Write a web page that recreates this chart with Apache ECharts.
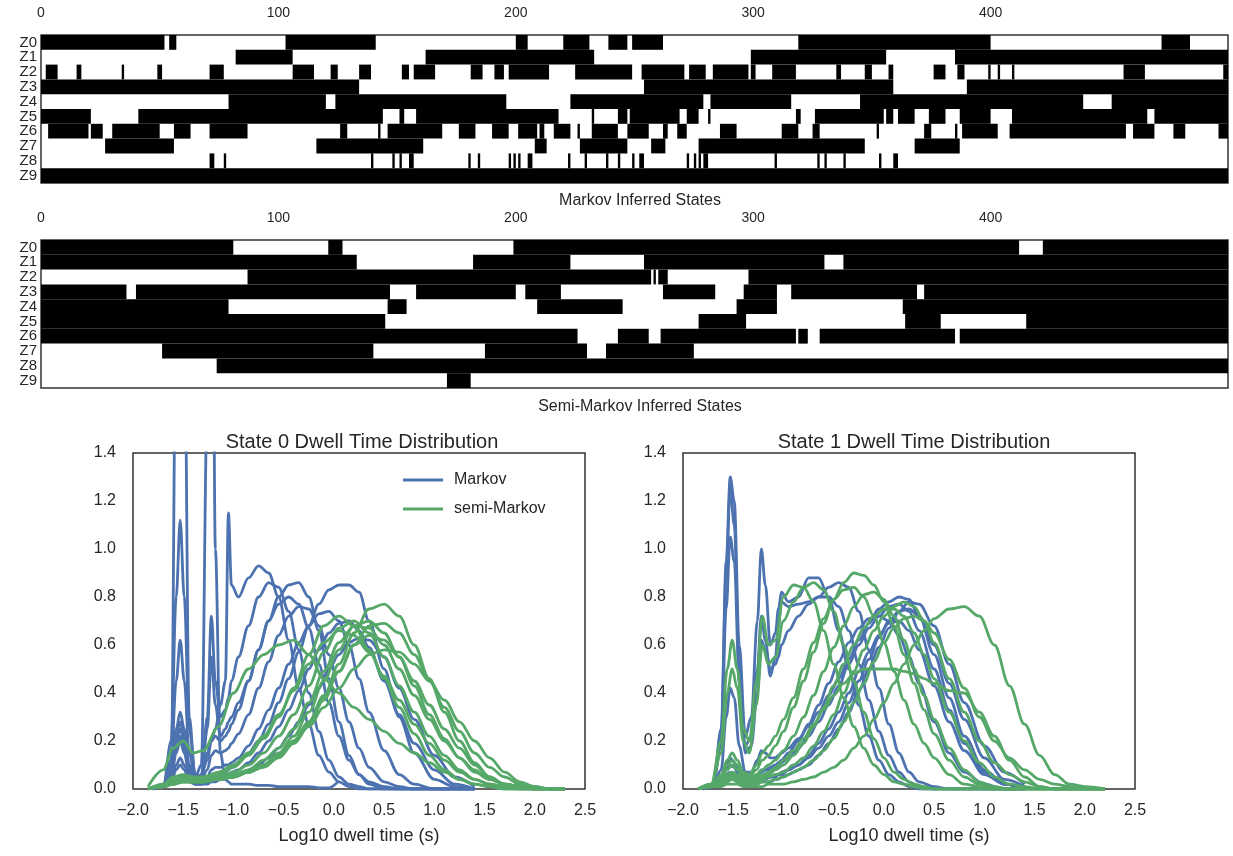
<!DOCTYPE html>
<html>
<head>
<meta charset="utf-8">
<script src="https://cdn.jsdelivr.net/npm/echarts@6/dist/echarts.min.js"></script>
<style>
  html, body { margin: 0; padding: 0; background: #fff; }
  #main { width: 1233px; height: 856px; }
</style>
</head>
<body>
<div id="main"></div>
<script>
// state labels for the two raster panels
var stateNames = ['Z0', 'Z1', 'Z2', 'Z3', 'Z4', 'Z5', 'Z6', 'Z7', 'Z8', 'Z9'];

// black runs [start, end) per state row, time steps 0..500
var markovRuns = [
  [[0,52],[54,57],[103,141],[200,205],[220,231],[239,247],[249,262],[319,400],[472,484]],
  [[82,106],[162,233],[299,356],[385,500]],
  [[2,7],[15,17],[34,35],[49,51],[71,77],[106,115],[122,125],[134,139],[152,155],[157,166],[181,186],[191,195],[197,214],[225,249],[253,271],[273,280],[283,298],[299,301],[308,318],[335,337],[347,350],[357,359],[376,381],[386,389],[399,400],[403,404],[409,410],[456,465],[498,500]],
  [[0,134],[254,359],[390,500]],
  [[79,120],[124,196],[223,279],[282,316],[345,439],[451,500]],
  [[0,21],[41,144],[151,153],[158,218],[232,233],[243,247],[248,269],[272,277],[281,282],[318,320],[326,355],[356,359],[361,368],[374,381],[387,400],[409,466],[469,500]],
  [[3,20],[21,26],[30,50],[56,63],[71,87],[126,129],[142,143],[146,169],[176,183],[190,197],[201,209],[210,212],[216,223],[226,227],[232,243],[247,256],[262,264],[268,272],[286,293],[312,319],[325,328],[352,353],[372,375],[385,386],[388,403],[408,457],[460,469],[477,482],[496,500]],
  [[27,56],[116,161],[208,213],[227,247],[257,263],[277,347],[368,387]],
  [[71,73],[77,78],[139,140],[148,149],[151,152],[155,157],[180,181],[184,185],[197,198],[199,200],[201,202],[205,207],[222,223],[229,230],[238,239],[243,244],[249,250],[252,254],[272,273],[275,276],[277,278],[279,281],[309,310],[327,328],[330,331],[338,339],[353,354],[359,361]],
  [[0,500]]
];

var semiRuns = [
  [[0,81],[121,127],[199,412],[422,500]],
  [[0,133],[182,223],[254,330],[338,500]],
  [[87,257],[258,259],[260,264],[298,500]],
  [[0,36],[40,147],[158,200],[204,219],[262,284],[296,310],[316,369],[372,500]],
  [[0,79],[146,154],[209,245],[293,310],[363,500]],
  [[0,145],[277,297],[364,379],[415,500]],
  [[0,226],[243,256],[261,318],[319,323],[328,385],[387,500]],
  [[51,140],[187,230],[238,275]],
  [[74,500]],
  [[171,181]]
];

// log10 dwell time grids
var xMarkov = [-1.8,-1.7,-1.62,-1.57,-1.53,-1.49,-1.44,-1.38,-1.32,-1.26,-1.22,-1.18,-1.13,-1.08,-1.05,-1.02,-0.95,-0.85,-0.75,-0.65,-0.55,-0.45,-0.35,-0.25,-0.15,-0.05,0.05,0.15,0.25,0.35,0.5,0.65,0.8,1.0,1.2,1.4];
var xSemi0 = [-1.85,-1.7,-1.6,-1.5,-1.4,-1.3,-1.15,-1.0,-0.85,-0.7,-0.55,-0.4,-0.25,-0.1,0.05,0.2,0.35,0.5,0.65,0.8,0.95,1.1,1.25,1.4,1.55,1.7,1.85,2.0,2.15,2.3];
var xSemi1 = [-1.85,-1.72,-1.62,-1.56,-1.51,-1.46,-1.4,-1.34,-1.27,-1.21,-1.15,-1.08,-1.0,-0.9,-0.8,-0.7,-0.6,-0.5,-0.4,-0.3,-0.2,-0.1,0.0,0.1,0.2,0.3,0.4,0.5,0.65,0.8,0.95,1.1,1.25,1.4,1.55,1.7,1.85,2.0,2.2];

// state 0, Markov densities (one per run)
var markovState0 = [
  [0,0.02,0.1,2.0,3.5,2.0,0.3,0.05,0.1,1.6,3.5,1.0,0.15,0.04,0.03,0.02,0.02,0.02,0.015,0.015,0.01,0.01,0.01,0.01,0.005,0.005,0.035,null,null,null,null,null,null,null,null,null],
  [0,0.01,0.2,0.8,1.12,0.8,0.25,0.06,0.05,0.15,0.2,0.25,0.35,0.45,1.15,0.85,0.8,0.88,0.93,0.9,0.8,0.62,0.42,0.27,0.14,0.07,0.03,0.01,0,0,0,0,0,0,0,0],
  [0,0.01,0.12,0.45,0.62,0.45,0.15,0.04,0.06,0.3,0.72,0.45,0.3,0.33,0.38,0.45,0.55,0.68,0.8,0.86,0.84,0.74,0.58,0.4,0.24,0.12,0.05,0.02,0.01,0,0,0,0,0,0,0],
  [0,0.01,0.08,0.25,0.32,0.25,0.1,0.03,0.05,0.25,0.55,0.35,0.22,0.25,0.28,0.3,0.36,0.45,0.58,0.7,0.8,0.85,0.86,0.8,0.66,0.46,0.28,0.14,0.06,0.02,0,0,0,0,0,0],
  [0,0.01,0.07,0.22,0.28,0.22,0.09,0.04,0.06,0.12,0.2,0.22,0.2,0.22,0.24,0.27,0.33,0.45,0.58,0.7,0.77,0.8,0.77,0.67,0.52,0.36,0.22,0.12,0.06,0.03,0.01,0,0,0,0,0],
  [0,0.01,0.06,0.2,0.25,0.2,0.08,0.03,0.04,0.08,0.14,0.16,0.15,0.16,0.17,0.19,0.23,0.31,0.42,0.53,0.64,0.72,0.76,0.75,0.68,0.56,0.42,0.28,0.17,0.09,0.03,0.01,0,0,0,0],
  [0,0.01,0.05,0.17,0.22,0.17,0.07,0.03,0.03,0.05,0.08,0.09,0.09,0.1,0.1,0.11,0.13,0.18,0.25,0.33,0.42,0.52,0.61,0.68,0.73,0.74,0.7,0.6,0.46,0.32,0.16,0.06,0.02,0,0,0],
  [0,0.01,0.05,0.15,0.2,0.15,0.06,0.02,0.02,0.03,0.04,0.05,0.06,0.07,0.08,0.09,0.11,0.15,0.2,0.27,0.36,0.46,0.57,0.68,0.77,0.83,0.85,0.85,0.82,0.7,0.5,0.3,0.15,0.04,0.01,0],
  [0,0.01,0.03,0.1,0.13,0.1,0.04,0.02,0.02,0.03,0.04,0.05,0.05,0.06,0.06,0.07,0.08,0.11,0.15,0.2,0.26,0.33,0.41,0.5,0.58,0.65,0.69,0.7,0.66,0.59,0.45,0.31,0.19,0.08,0.02,0],
  [0,0.01,0.03,0.08,0.1,0.08,0.03,0.02,0.02,0.02,0.03,0.03,0.04,0.04,0.05,0.05,0.06,0.08,0.1,0.13,0.17,0.22,0.28,0.35,0.42,0.5,0.56,0.61,0.63,0.62,0.55,0.42,0.29,0.14,0.05,0.01]
];

// state 0, semi-Markov densities
var semiState0 = [
  [0,0.01,0.03,0.04,0.03,0.03,0.04,0.05,0.07,0.1,0.14,0.2,0.28,0.39,0.52,0.65,0.75,0.77,0.72,0.6,0.46,0.32,0.2,0.11,0.05,0.02,0.01,0,0,0],
  [0,0.01,0.04,0.05,0.04,0.04,0.06,0.09,0.14,0.21,0.3,0.42,0.56,0.68,0.72,0.68,0.58,0.46,0.34,0.23,0.14,0.08,0.04,0.02,0.01,0,0,0,0,0],
  [0,0.01,0.03,0.05,0.04,0.04,0.05,0.07,0.1,0.15,0.22,0.31,0.43,0.57,0.67,0.7,0.65,0.55,0.43,0.32,0.22,0.14,0.08,0.04,0.02,0.01,0,0,0,0],
  [0,0.01,0.02,0.03,0.03,0.03,0.04,0.05,0.07,0.1,0.14,0.2,0.28,0.38,0.49,0.6,0.68,0.69,0.65,0.56,0.45,0.34,0.24,0.15,0.09,0.05,0.02,0.01,0,0],
  [0,0.01,0.03,0.04,0.04,0.04,0.05,0.06,0.08,0.12,0.17,0.25,0.36,0.49,0.61,0.68,0.67,0.6,0.5,0.39,0.29,0.2,0.13,0.08,0.04,0.02,0.01,0,0,0],
  [0,0.01,0.02,0.03,0.03,0.03,0.04,0.05,0.07,0.1,0.14,0.19,0.26,0.34,0.42,0.5,0.56,0.58,0.57,0.52,0.45,0.37,0.28,0.2,0.13,0.07,0.03,0.01,0,0],
  [0.01,0.08,0.17,0.2,0.15,0.16,0.26,0.4,0.5,0.56,0.6,0.62,0.56,0.46,0.4,0.34,0.29,0.24,0.19,0.15,0.11,0.07,0.04,0.02,0.01,0,0,0,0,0],
  [0,0.02,0.05,0.06,0.05,0.05,0.07,0.1,0.15,0.22,0.31,0.41,0.52,0.61,0.66,0.64,0.57,0.47,0.37,0.27,0.19,0.12,0.07,0.04,0.02,0.01,0,0,0,0],
  [0,0.01,0.02,0.03,0.03,0.03,0.04,0.05,0.07,0.09,0.13,0.19,0.27,0.37,0.49,0.6,0.64,0.62,0.55,0.45,0.35,0.25,0.17,0.1,0.05,0.02,0.01,0,0,0],
  [0,0.01,0.02,0.03,0.03,0.03,0.04,0.05,0.07,0.1,0.15,0.22,0.32,0.45,0.58,0.68,0.7,0.65,0.55,0.43,0.31,0.21,0.13,0.07,0.04,0.02,0.01,0,0,0]
];

// state 1, Markov densities
var markovState1 = [
  [0,0.02,0.25,0.95,1.3,1.2,0.6,0.22,0.3,0.7,1.0,0.85,0.6,0.65,0.75,0.82,0.78,0.8,0.88,0.88,0.8,0.66,0.5,0.35,0.22,0.12,0.06,0.03,0.01,0,0,0,0,0,0,0],
  [0,0.02,0.22,0.9,1.25,1.1,0.5,0.18,0.22,0.5,0.72,0.62,0.47,0.55,0.68,0.78,0.76,0.77,0.78,0.8,0.84,0.86,0.84,0.74,0.58,0.42,0.27,0.15,0.07,0.03,0.01,0,0,0,0,0],
  [0,0.02,0.18,0.75,1.05,0.95,0.45,0.15,0.18,0.4,0.62,0.58,0.5,0.52,0.55,0.6,0.66,0.72,0.77,0.8,0.8,0.76,0.66,0.52,0.37,0.24,0.14,0.07,0.03,0.01,0,0,0,0,0,0],
  [0,0.01,0.08,0.3,0.42,0.38,0.18,0.07,0.07,0.12,0.16,0.15,0.13,0.13,0.14,0.15,0.17,0.21,0.26,0.32,0.39,0.46,0.54,0.62,0.69,0.75,0.78,0.8,0.79,0.72,0.56,0.38,0.22,0.08,0.02,0],
  [0,0.01,0.04,0.1,0.13,0.11,0.06,0.03,0.04,0.06,0.08,0.08,0.08,0.09,0.1,0.11,0.13,0.17,0.22,0.28,0.35,0.43,0.52,0.6,0.67,0.72,0.76,0.77,0.74,0.66,0.5,0.33,0.19,0.07,0.02,0],
  [0,0.01,0.03,0.08,0.1,0.09,0.05,0.03,0.03,0.05,0.07,0.08,0.09,0.1,0.11,0.12,0.15,0.2,0.27,0.35,0.44,0.53,0.61,0.67,0.71,0.72,0.7,0.64,0.55,0.44,0.28,0.15,0.07,0.02,0,0],
  [0,0.01,0.03,0.06,0.07,0.06,0.04,0.02,0.02,0.03,0.04,0.05,0.05,0.06,0.06,0.07,0.08,0.1,0.13,0.17,0.22,0.28,0.36,0.45,0.54,0.63,0.7,0.74,0.75,0.72,0.6,0.44,0.29,0.13,0.04,0.01],
  [0,0.01,0.02,0.05,0.06,0.05,0.03,0.02,0.02,0.03,0.04,0.04,0.05,0.05,0.06,0.06,0.08,0.1,0.14,0.19,0.25,0.32,0.4,0.49,0.57,0.64,0.69,0.7,0.66,0.58,0.43,0.28,0.16,0.06,0.02,0],
  [0,0.01,0.02,0.04,0.05,0.04,0.03,0.02,0.02,0.02,0.03,0.03,0.03,0.04,0.04,0.05,0.06,0.08,0.1,0.14,0.19,0.25,0.32,0.41,0.5,0.59,0.67,0.74,0.78,0.77,0.68,0.52,0.36,0.18,0.07,0.02]
];

// state 1, semi-Markov densities
var semiState1 = [
  [0,0.02,0.2,0.5,0.62,0.5,0.25,0.2,0.45,0.72,0.6,0.62,0.8,0.85,0.84,0.78,0.66,0.52,0.38,0.26,0.17,0.1,0.06,0.03,0.02,0.01,0,0,0,0,0,0,0,0,0,0,0,0,0],
  [0,0.02,0.15,0.4,0.5,0.42,0.2,0.15,0.35,0.6,0.52,0.55,0.7,0.78,0.84,0.86,0.83,0.74,0.6,0.45,0.32,0.21,0.13,0.07,0.04,0.02,0.01,0,0,0,0,0,0,0,0,0,0,0,0],
  [0,0.01,0.05,0.1,0.12,0.1,0.06,0.05,0.08,0.12,0.14,0.18,0.24,0.34,0.45,0.57,0.69,0.79,0.86,0.9,0.89,0.85,0.78,0.68,0.56,0.44,0.33,0.23,0.12,0.05,0.02,0,0,0,0,0,0,0,0],
  [0,0.01,0.04,0.08,0.1,0.08,0.05,0.04,0.06,0.08,0.1,0.12,0.16,0.22,0.3,0.39,0.49,0.59,0.68,0.76,0.81,0.82,0.79,0.72,0.62,0.5,0.39,0.29,0.17,0.08,0.03,0.01,0,0,0,0,0,0,0],
  [0,0.01,0.03,0.06,0.07,0.06,0.04,0.03,0.04,0.05,0.06,0.08,0.1,0.14,0.19,0.26,0.34,0.43,0.52,0.6,0.67,0.72,0.75,0.75,0.72,0.65,0.56,0.46,0.32,0.2,0.11,0.05,0.02,0.01,0,0,0,0,0],
  [0,0.01,0.02,0.04,0.05,0.04,0.03,0.02,0.03,0.04,0.05,0.06,0.07,0.1,0.13,0.18,0.24,0.31,0.4,0.49,0.58,0.66,0.72,0.76,0.78,0.76,0.7,0.61,0.46,0.32,0.2,0.11,0.06,0.03,0.01,0,0,0,0],
  [0,0.01,0.02,0.03,0.04,0.03,0.02,0.02,0.02,0.03,0.03,0.04,0.05,0.07,0.09,0.12,0.16,0.21,0.28,0.36,0.44,0.53,0.61,0.67,0.71,0.72,0.7,0.65,0.54,0.42,0.3,0.2,0.13,0.08,0.04,0.02,0.01,0,0],
  [0,0.01,0.03,0.05,0.06,0.05,0.04,0.04,0.05,0.06,0.07,0.09,0.12,0.16,0.21,0.27,0.33,0.39,0.44,0.48,0.5,0.5,0.5,0.5,0.49,0.48,0.46,0.44,0.41,0.4,0.32,0.22,0.12,0.05,0.01,0,0,0,0],
  [0,0.01,0.01,0.02,0.02,0.02,0.01,0.01,0.01,0.01,0.02,0.02,0.02,0.03,0.04,0.05,0.07,0.09,0.12,0.17,0.22,0.29,0.36,0.44,0.52,0.6,0.66,0.71,0.75,0.76,0.72,0.6,0.43,0.27,0.14,0.06,0.02,0.01,0],
  [0,0.01,0.06,0.12,0.15,0.12,0.07,0.06,0.1,0.15,0.18,0.22,0.29,0.38,0.5,0.61,0.71,0.79,0.83,0.84,0.8,0.72,0.61,0.49,0.37,0.27,0.19,0.13,0.06,0.02,0.01,0,0,0,0,0,0,0,0]
];

var BLUE = '#4c72b0';
var GREEN = '#55a868';
var INK = '#262626';
var FONT = 'Liberation Sans, Arial, sans-serif';

var myChart = echarts.init(document.getElementById('main'));

function runData(rows) {
    var out = [];
    rows.forEach(function (runs, row) {
        runs.forEach(function (r) { out.push([r[0], r[1], row]); });
    });
    return out;
}

function renderRun(params, api) {
    var p0 = api.coord([api.value(0), api.value(2)]);
    var p1 = api.coord([api.value(1), api.value(2)]);
    var h = api.size([0, 1])[1];
    return {
        type: 'rect',
        shape: { x: p0[0], y: p0[1] - h / 2, width: p1[0] - p0[0], height: h },
        style: { fill: '#000' }
    };
}

function pairs(xs, ys) {
    var out = [];
    xs.forEach(function (x, i) {
        if (ys[i] !== null) out.push([x, ys[i]]);
    });
    return out;
}

function stripX(idx) {
    return {
        gridIndex: idx, type: 'value', min: 0, max: 500, interval: 100, position: 'top',
        axisLine: { show: false }, axisTick: { show: false }, splitLine: { show: false },
        axisLabel: {
            margin: 15, fontSize: 14, color: INK, fontFamily: FONT,
            formatter: function (v) { return v >= 500 ? '' : String(v); }
        }
    };
}

function stripY(idx) {
    return {
        gridIndex: idx, type: 'category', data: stateNames, inverse: true,
        axisLine: { show: false }, axisTick: { show: false }, splitLine: { show: false },
        axisLabel: { interval: 0, margin: 4, fontSize: 15, lineHeight: 14, color: INK, fontFamily: FONT }
    };
}

function densX(idx) {
    return {
        gridIndex: idx, type: 'value', min: -2, max: 2.5, interval: 0.5,
        name: 'Log10 dwell time (s)', nameLocation: 'middle', nameGap: 38,
        nameTextStyle: { fontSize: 18, color: INK, fontFamily: FONT },
        axisLine: { show: false }, axisTick: { show: false }, splitLine: { show: false },
        axisLabel: {
            margin: 14, fontSize: 16, color: INK, fontFamily: FONT,
            formatter: function (v) { return (v < 0 ? '\u2212' : '') + Math.abs(v).toFixed(1); }
        }
    };
}

function densY(idx) {
    return {
        gridIndex: idx, type: 'value', min: 0, max: 1.4, interval: 0.2,
        axisLine: { show: false }, axisTick: { show: false }, splitLine: { show: false },
        axisLabel: {
            margin: 17, fontSize: 16, color: INK, fontFamily: FONT,
            formatter: function (v) { return v.toFixed(1); }
        }
    };
}

function curveSeries(name, color, idx, xs, curves) {
    return curves.map(function (ys) {
        return {
            name: name, type: 'line', xAxisIndex: idx, yAxisIndex: idx,
            data: pairs(xs, ys), showSymbol: false, smooth: 0.35, smoothMonotone: 'x',
            lineStyle: { width: 2.8, color: color }, itemStyle: { color: color },
            clip: true
        };
    });
}

var series = [
    { type: 'custom', xAxisIndex: 0, yAxisIndex: 0, renderItem: renderRun,
      encode: { x: [0, 1], y: 2 }, data: runData(markovRuns) },
    { type: 'custom', xAxisIndex: 1, yAxisIndex: 1, renderItem: renderRun,
      encode: { x: [0, 1], y: 2 }, data: runData(semiRuns) }
];
series = series
    .concat(curveSeries('Markov', BLUE, 2, xMarkov, markovState0))
    .concat(curveSeries('semi-Markov', GREEN, 2, xSemi0, semiState0))
    .concat(curveSeries('Markov', BLUE, 3, xMarkov, markovState1))
    .concat(curveSeries('semi-Markov', GREEN, 3, xSemi1, semiState1));

myChart.setOption({
    animation: false,
    backgroundColor: '#fff',
    textStyle: { fontFamily: FONT },
    title: [
        { text: 'Markov Inferred States', left: 635, top: 188, textAlign: 'center',
          textStyle: { fontSize: 16, fontWeight: 'normal', color: INK, fontFamily: FONT } },
        { text: 'Semi-Markov Inferred States', left: 635, top: 394, textAlign: 'center',
          textStyle: { fontSize: 16, fontWeight: 'normal', color: INK, fontFamily: FONT } },
        { text: 'State 0 Dwell Time Distribution', left: 357, top: 427, textAlign: 'center',
          textStyle: { fontSize: 20, fontWeight: 'normal', color: INK, fontFamily: FONT } },
        { text: 'State 1 Dwell Time Distribution', left: 909, top: 427, textAlign: 'center',
          textStyle: { fontSize: 20, fontWeight: 'normal', color: INK, fontFamily: FONT } }
    ],
    legend: {
        data: ['Markov', 'semi-Markov'],
        left: 398, top: 466, orient: 'vertical',
        itemWidth: 40, itemHeight: 3, itemGap: 11, icon: 'rect',
        textStyle: { fontSize: 16, lineHeight: 18, color: INK, fontFamily: FONT, padding: [0, 0, 0, 6] },
        selectedMode: false
    },
    grid: [
        { left: 41, top: 35, width: 1187, height: 148, show: true, borderColor: '#333', borderWidth: 1.5 },
        { left: 41, top: 240, width: 1187, height: 148, show: true, borderColor: '#333', borderWidth: 1.5 },
        { left: 133, top: 453, width: 452, height: 336, show: true, borderColor: '#333', borderWidth: 1.5 },
        { left: 683, top: 453, width: 452, height: 336, show: true, borderColor: '#333', borderWidth: 1.5 }
    ],
    xAxis: [stripX(0), stripX(1), densX(2), densX(3)],
    yAxis: [stripY(0), stripY(1), densY(2), densY(3)],
    series: series
});
</script>
</body>
</html>
